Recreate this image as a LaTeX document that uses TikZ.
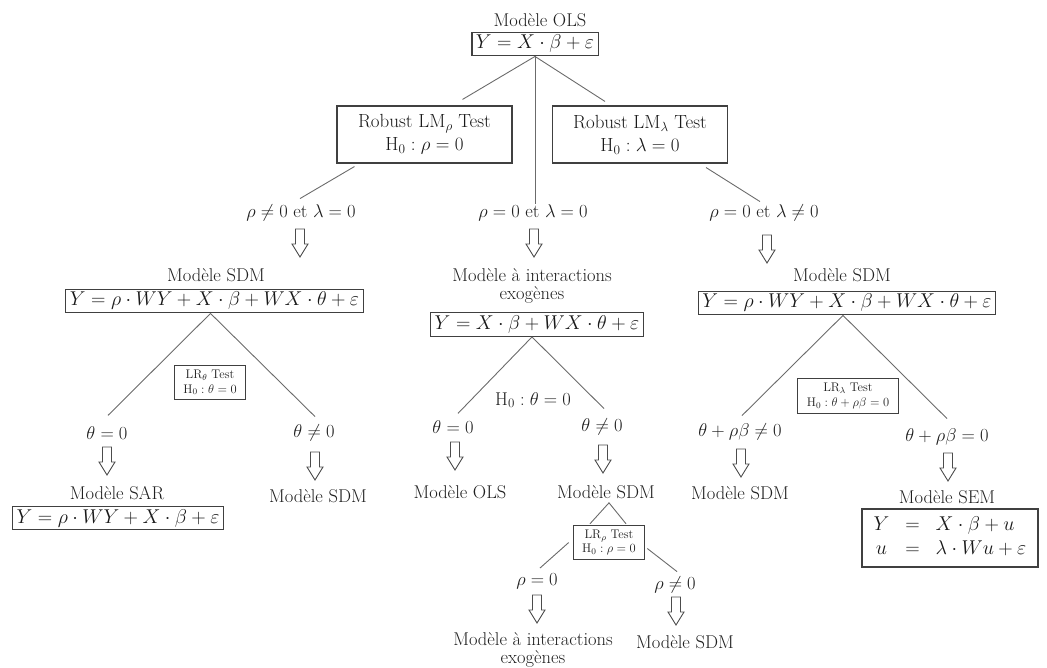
\RequirePackage{fix-cm}
\documentclass[tikz,border=0pt]{standalone}
\usetikzlibrary{calc}
\tikzset{
  txt/.style={font=\fontsize{18.5}{19}\selectfont, text=black!88, inner sep=1pt},
  eqbox/.style={draw=black!75, line width=1.1pt, font=\fontsize{20}{24}\selectfont, text=black!90, inner xsep=4pt, inner ysep=3pt},
  rbox/.style={draw=black!75, line width=1.1pt, font=\fontsize{19}{23}\selectfont, text=black!90, align=center, minimum width=175pt, minimum height=57pt, inner sep=2pt},
  lrbox/.style={draw=black!75, line width=1pt, font=\fontsize{12.5}{14.5}\selectfont, text=black!88, align=center, inner xsep=9pt, inner ysep=4.5pt},
  link/.style={draw=black!58, line width=0.9pt},
  hollowarrow/.pic={\draw[black!70, line width=0.9pt, line join=miter]
     (-4.5,-14) -- (-4.5,1) -- (-8,1) -- (0,14) -- (8,1) -- (4.5,1) -- (4.5,-14) -- cycle;}
}
\begin{document}
\begin{tikzpicture}[x=1pt,y=-1pt]
\useasboundingbox (0,0) rectangle (1047,668);
% ---------- top ----------
\node[txt] (olsT) at (540,20) {Modèle OLS};
\node[eqbox] (olsB) at (535,44) {$Y = X\cdot\beta+\varepsilon$};
\node[rbox] (lmr) at (424.5,134.5) {Robust LM$_\rho$ Test\\$\mathrm{H}_0:\rho=0$};
\node[rbox] (lml) at (640,134.5) {Robust LM$_\lambda$ Test\\$\mathrm{H}_0:\lambda=0$};
\node[txt] (c1) at (301,213) {$\rho\neq0$ et $\lambda=0$};
\node[txt] (c2) at (533,213) {$\rho=0$ et $\lambda=0$};
\node[txt] (c3) at (764,213) {$\rho=0$ et $\lambda\neq0$};
\draw[link] (olsB.south) -- ($(lmr.north)+(38,-6)$);
\draw[link] (olsB.south) -- ($(lml.north)+(-35,-4)$);
\draw[link] (olsB.south) -- (olsB.south |- c2.north);
\draw[link] ($(lmr.south west)+(18,3)$) -- ($(c1.north)+(-1,-5)$);
\draw[link] ($(lml.south east)+(-22,4)$) -- ($(c3.north)+(-4,-2)$);
\pic at (300,243) {hollowarrow};
\pic at (534,243) {hollowarrow};
\pic at (767,249) {hollowarrow};
% ---------- second level ----------
\node[txt] (sdmLT) at (216,275) {Modèle SDM};
\node[eqbox] (sdmL) at (214.5,301) {$Y=\rho\cdot WY+X\cdot\beta+WX\cdot\theta+\varepsilon$};
\node[txt, align=center, font=\fontsize{18.5}{18.5}\selectfont] (iexT) at (532,286) {Modèle à interactions\\exogènes};
\node[eqbox] (iexB) at (537,324.5) {$Y=X\cdot\beta+WX\cdot\theta+\varepsilon$};
\node[txt] (sdmRT) at (842,275) {Modèle SDM};
\node[eqbox] (sdmR) at (847,303) {$Y=\rho\cdot WY+X\cdot\beta+WX\cdot\theta+\varepsilon$};
% ---------- left subtree ----------
\node[lrbox] (lrt) at (210,382.5) {LR$_\theta$ Test\\$\mathrm{H}_0:\theta=0$};
\node[txt] (l1) at (107,433) {$\theta=0$};
\node[txt] (l2) at (314,433) {$\theta\neq0$};
\draw[link] ($(sdmL.south)+(-4,0)$) -- ($(l1.north)+(1,-10)$);
\draw[link] ($(sdmL.south)+(-4,0)$) -- ($(l2.north)+(1,-7)$);
\pic at (107,461) {hollowarrow};
\pic at (315,466) {hollowarrow};
\node[txt] (sarT) at (117,493) {Modèle SAR};
\node[eqbox] (sarB) at (118,518) {$Y=\rho\cdot WY+X\cdot\beta+\varepsilon$};
\node[txt] (sdm2) at (318,496) {Modèle SDM};
% ---------- middle subtree ----------
\node[txt] (h0) at (533,400) {$\mathrm{H}_0:\theta=0$};
\node[txt] (m1) at (453,427) {$\theta=0$};
\node[txt] (m2) at (602,427) {$\theta\neq0$};
\draw[link] ($(iexB.south)+(-5,0)$) -- ($(m1.north)+(5,-6)$);
\draw[link] ($(iexB.south)+(-5,0)$) -- ($(m2.north)+(2,-9)$);
\pic at (455,456) {hollowarrow};
\pic at (603,459) {hollowarrow};
\node[txt] (olsM) at (460,492) {Modèle OLS};
\node[txt] (sdmM) at (606,492) {Modèle SDM};
\node[lrbox] (lrr) at (609,542.5) {LR$_\rho$ Test\\$\mathrm{H}_0:\rho=0$};
\draw[link] ($(lrr.north)+(-19,-1)$) -- ($(sdmM.south)+(3,3)$) -- ($(lrr.north)+(17,-1)$);
\node[txt] (b1) at (537,581) {$\rho=0$};
\node[txt] (b2) at (675,585) {$\rho\neq0$};
\draw[link] ($(lrr.west)+(-4,0)$) -- ($(b1.north)+(3,-4)$);
\draw[link] ($(lrr.east)+(2,6)$) -- ($(b2.north)+(2,-4)$);
\pic at (537,609) {hollowarrow};
\pic at (676,611) {hollowarrow};
\node[txt, align=center, font=\fontsize{18.5}{17.5}\selectfont] (iex2) at (533,650) {Modèle à interactions\\exogènes};
\node[txt] (sdm3) at (685,642) {Modèle SDM};
% ---------- right subtree ----------
\node[lrbox] (lrl) at (848,396) {LR$_\lambda$ Test\\$\mathrm{H}_0:\theta+\rho\beta=0$};
\node[txt] (r1) at (740,432) {$\theta+\rho\beta\neq0$};
\node[txt] (r2) at (947,437) {$\theta+\rho\beta=0$};
\draw[link] ($(sdmR.south)+(-4,0)$) -- ($(r1.north)+(2,-7)$);
\draw[link] ($(sdmR.south)+(-4,0)$) -- ($(r2.north)+(0,-9)$);
\pic at (741,463) {hollowarrow};
\pic at (948,467) {hollowarrow};
\node[txt] (sdm4) at (740,493) {Modèle SDM};
\node[txt] (semT) at (947,497) {Modèle SEM};
\node[eqbox, minimum width=176pt, minimum height=58pt] (semB) at (950,538)
  {\setlength{\arraycolsep}{8pt}$\begin{array}{@{}c c l@{}} Y & = & X\cdot\beta+u\\ u & = & \lambda\cdot Wu+\varepsilon\end{array}$};
\end{tikzpicture}
\end{document}
